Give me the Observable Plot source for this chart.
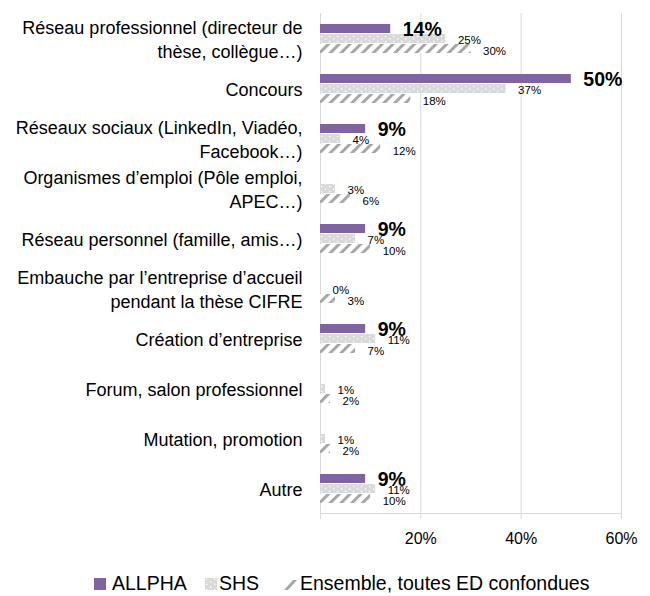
<!DOCTYPE html>
<html>
<head>
<meta charset="utf-8">
<script src="https://cdn.jsdelivr.net/npm/d3@7"></script>
<script src="https://cdn.jsdelivr.net/npm/@observablehq/plot@0.6"></script>
<style>
  html, body { margin: 0; padding: 0; background: #fff; }
  body { width: 650px; height: 596px; position: relative; overflow: hidden; font-family: "Liberation Sans", Arial, sans-serif; color: #000; }
  #chart { position: absolute; left: 0; top: 0; }
  #legend { position: absolute; left: 0; top: 572px; width: 650px; height: 23px; font-size: 19.5px; line-height: 23px; }
  #legend .item { position: absolute; top: 0; white-space: nowrap; }
  #legend svg { position: absolute; top: 6px; }
</style>
</head>
<body>
<svg width="0" height="0" style="position:absolute">
  <defs>
    <pattern id="dots" patternUnits="userSpaceOnUse" width="8" height="5">
      <rect width="8" height="5" fill="#d9d9d9"></rect>
      <rect x="1" y="0.8" width="1.3" height="1.3" fill="#ffffff"></rect>
      <rect x="5" y="3.3" width="1.3" height="1.3" fill="#ffffff"></rect>
    </pattern>
    <pattern id="hatch" patternUnits="userSpaceOnUse" width="7.6" height="10" patternTransform="rotate(45)">
      <rect width="7.6" height="10" fill="#ffffff"></rect>
      <rect x="0" y="0" width="3" height="10" fill="#a6a6a6"></rect>
    </pattern>
  </defs>
</svg>
<div id="chart"></div>
<div id="legend"></div>
<script>
const categories = [
  "Réseau professionnel (directeur de\nthèse, collègue…)",
  "Concours",
  "Réseaux sociaux (LinkedIn, Viadéo,\nFacebook…)",
  "Organismes d’emploi (Pôle emploi,\nAPEC…)",
  "Réseau personnel (famille, amis…)",
  "Embauche par l’entreprise d’accueil\npendant la thèse CIFRE",
  "Création d’entreprise",
  "Forum, salon professionnel",
  "Mutation, promotion",
  "Autre"
];
const seriesNames = ["ALLPHA", "SHS", "Ensemble, toutes ED confondues"];
const allpha   = [14, 50, 9, null, 9, null, 9, null, null, 9];
const shs      = [25, 37, 4, 3, 7, 0, 11, 1, 1, 11];
const ensemble = [30, 18, 12, 6, 10, 3, 7, 2, 2, 10];
const xTicks = [0, 20, 40, 60];

const seriesFill = {
  "ALLPHA": "#8064a2",
  "SHS": "url(#dots)",
  "Ensemble, toutes ED confondues": "url(#hatch)"
};

const rows = categories.flatMap((c, i) => [
  {cat: c, series: seriesNames[0], value: allpha[i]},
  {cat: c, series: seriesNames[1], value: shs[i]},
  {cat: c, series: seriesNames[2], value: ensemble[i]}
]).filter(d => d.value != null);

const of = s => rows.filter(d => d.series === s);
const pct = d => d.value + "%";

const chart = Plot.plot({
  width: 650,
  height: 562,
  marginLeft: 320,
  marginRight: 29,
  marginTop: 8,
  marginBottom: 45,
  style: {fontFamily: "Liberation Sans, Arial, sans-serif", background: "transparent"},
  x: {domain: [0, 60]},
  fy: {domain: categories, padding: 0, label: null},
  y: {domain: seriesNames, paddingInner: 0.14, paddingOuter: 0.99, axis: null},
  marks: [
    Plot.gridX([20, 40, 60], {stroke: "#d9d9d9", strokeOpacity: 1}),
    Plot.ruleX([0], {stroke: "#d9d9d9"}),
    Plot.frame({anchor: "bottom", stroke: "#d9d9d9", facet: "super"}),
    Plot.barX(of(seriesNames[0]), {fy: "cat", y: "series", x: "value", fill: seriesFill["ALLPHA"]}),
    Plot.barX(of(seriesNames[1]), {fy: "cat", y: "series", x: "value", fill: seriesFill["SHS"]}),
    Plot.barX(of(seriesNames[2]), {fy: "cat", y: "series", x: "value", fill: seriesFill["Ensemble, toutes ED confondues"]}),
    Plot.text(of(seriesNames[0]), {fy: "cat", y: "series", x: "value", text: pct, dx: 12, dy: 1, textAnchor: "start", fontWeight: "bold", fontSize: 19.5, fill: "#000"}),
    Plot.text(of(seriesNames[1]), {fy: "cat", y: "series", x: "value", text: pct, dx: 12, dy: 1, textAnchor: "start", fontSize: 11.5, fill: "#000"}),
    Plot.text(of(seriesNames[2]), {fy: "cat", y: "series", x: "value", text: pct, dx: 12, dy: 2, textAnchor: "start", fontSize: 11.5, fill: "#000"}),
    Plot.axisFy({anchor: "left", tickSize: 0, tickPadding: 18, fontSize: 18, lineHeight: 1.33, label: null, fill: "#000"}),
    Plot.axisX(xTicks, {anchor: "bottom", tickSize: 6, tickPadding: 13, stroke: "#d9d9d9", fill: "#000", fontSize: 16, tickFormat: d => d === 0 ? "" : d + "%", label: null})
  ]
});
document.getElementById("chart").appendChild(chart);

// Legend (HTML, below the SVG)
const legend = document.getElementById("legend");
const legendItems = [
  {name: seriesNames[0], sw: 94, tx: 112, kind: "solid"},
  {name: "SHS", sw: 205, tx: 219, kind: "dots"},
  {name: seriesNames[2], sw: 282, tx: 300, kind: "hatch"}
];
for (const it of legendItems) {
  const ns = "http://www.w3.org/2000/svg";
  const s = document.createElementNS(ns, "svg");
  s.setAttribute("width", it.kind === "hatch" ? 16 : 12);
  s.setAttribute("height", 12);
  s.style.left = it.sw + "px";
  if (it.kind === "hatch") {
    const p = document.createElementNS(ns, "path");
    p.setAttribute("d", "M2,12 L6,12 L15,2 L11,2 Z");
    p.setAttribute("fill", "#a6a6a6");
    s.appendChild(p);
  } else {
    const r = document.createElementNS(ns, "rect");
    r.setAttribute("width", 12);
    r.setAttribute("height", 12);
    r.setAttribute("fill", it.kind === "solid" ? seriesFill["ALLPHA"] : seriesFill["SHS"]);
    s.appendChild(r);
  }
  legend.appendChild(s);
  const t = document.createElement("span");
  t.className = "item";
  t.style.left = it.tx + "px";
  t.textContent = it.name;
  legend.appendChild(t);
}
</script>
</body>
</html>
